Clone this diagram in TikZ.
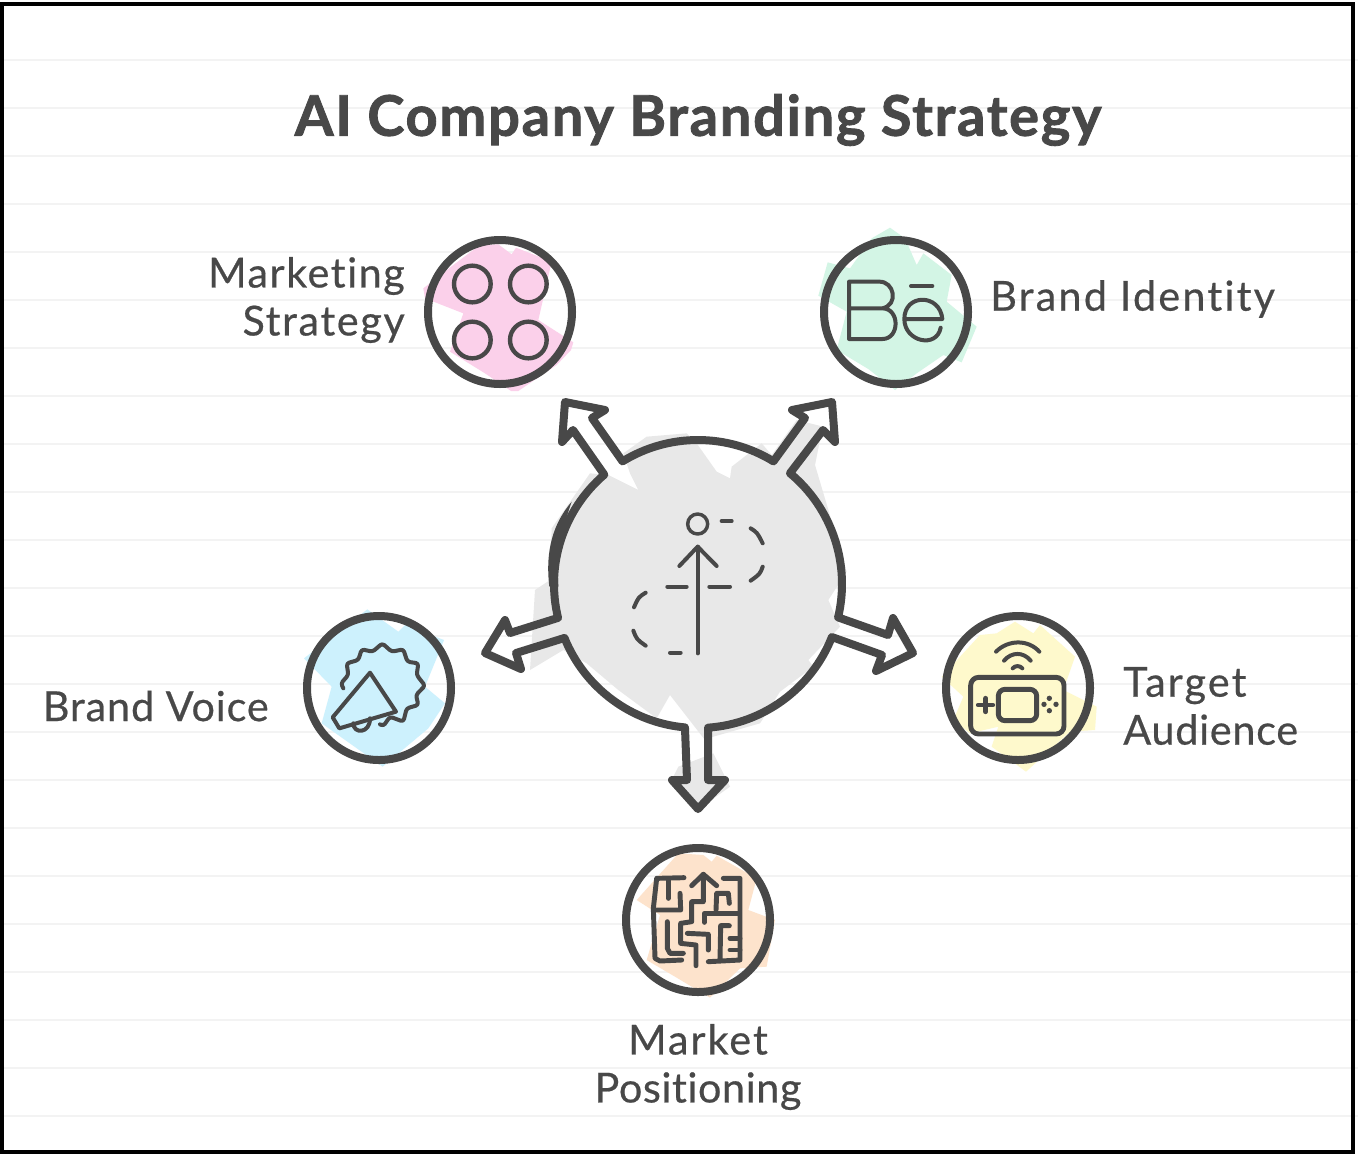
\documentclass[tikz,border=0pt]{standalone}
\usepackage{fontspec}
\setmainfont{Lato}[Ligatures=CommonOff]
\newcommand{\spaced}[2]{{\addfontfeature{LetterSpace=#1,FakeBold=0.5}#2}}
\newcommand{\spacedheavy}[2]{{\addfontfeature{LetterSpace=#1,FakeBold=1.5}#2}}
\definecolor{ink}{HTML}{484848}
\definecolor{ruleline}{HTML}{F3F3F3}
\definecolor{hubfill}{HTML}{E8E8E8}
\definecolor{pinkfill}{HTML}{FBD0EA}
\definecolor{mintfill}{HTML}{D3F5E5}
\definecolor{bluefill}{HTML}{CDF1FD}
\definecolor{yellowfill}{HTML}{FEF9CC}
\definecolor{peachfill}{HTML}{FDE3CC}
\tikzset{
  ring/.style={circle,draw=ink,line width=6pt,minimum size=108pt,inner sep=0pt},
  hubanchor/.style={circle,inner sep=0pt,minimum size=216pt},
  hubline/.style={draw=ink,line width=6pt,line join=round,line cap=round},
  icon/.style={draw=ink,line width=3pt,line join=round,line cap=round},
  heavyicon/.style={draw=ink,line width=3.7pt,line join=round,line cap=round},
  thinicon/.style={draw=ink,line width=3pt,line join=round,line cap=round},
  zoomed/.style={x=0.25pt,y=-0.25pt},
  labeltext/.style={text=ink,font=\fontsize{31}{36}\selectfont,inner sep=0pt},
  titletext/.style={text=ink,font=\bfseries\fontsize{42}{48}\selectfont,inner sep=0pt},
}
\begin{document}
\begin{tikzpicture}[x=0.75pt,y=-0.75pt]
\useasboundingbox (0,0) rectangle (1358,1154);
\fill[white] (0,0) rectangle (1358,1154);
\foreach \yy in {60,108,...,1116} \draw[ruleline,line width=1.5pt] (4,\yy) -- (1358,\yy);
\draw[black,line width=3pt] (2,4) rectangle (1353,1152);

% sketch fills
\begin{scope}[shift={(530,390)},zoomed]
\fill[hubfill] (350,140)--(470,130)--(500,160)--(560,245)--(600,265)--(605,230)--(695,160)--(725,195)--(800,90)--(880,110)--(870,150)--(855,225)--(950,545)--(895,630)--(930,710)--(835,810)--(850,830)--(750,905)--(690,1000)--(550,1040)--(525,1050)--(420,915)--(380,985)--(265,900)--(170,820)--(100,780)--(0,840)--(15,600)--(60,570)--(65,415)--(110,350)--(180,250)--(235,255)--(325,300)--(300,250)--(280,190)--cycle;
\fill[hubfill] (445,1130)--(550,1090)--(600,1190)--(505,1258)--(425,1170)--cycle;
\end{scope}
\begin{scope}[shift={(410,225)},zoomed]
\fill[pinkfill] (40,190)--(130,120)--(210,60)--(265,58)--(305,88)--(318,68)--(425,110)--(385,285)--(490,352)--(483,375)--(440,420)--(325,498)--(303,498)--(225,445)--(120,380)--(160,265)--(45,220)--cycle;
\end{scope}
\begin{scope}[shift={(805,225)},zoomed]
\fill[mintfill] (255,8)--(300,40)--(335,120)--(355,85)--(440,150)--(425,230)--(515,305)--(470,412)--(415,390)--(335,445)--(270,495)--(190,432)--(95,375)--(125,260)--(40,212)--(68,112)--(135,130)--(200,40)--cycle;
\end{scope}
\begin{scope}[shift={(290,600)},zoomed]
\fill[bluefill] (232,28)--(325,95)--(345,75)--(462,120)--(405,260)--(465,310)--(415,385)--(278,500)--(95,370)--(125,260)--(42,175)--cycle;
\end{scope}
\begin{scope}[shift={(930,600)},zoomed]
\fill[yellowfill] (255,65)--(310,100)--(330,75)--(435,170)--(400,270)--(500,320)--(495,390)--(420,395)--(288,515)--(185,440)--(205,380)--(120,400)--(70,360)--(100,290)--(35,230)--(150,105)--(200,100)--cycle;
\end{scope}
\begin{scope}[shift={(610,835)},zoomed]
\fill[peachfill] (205,55)--(280,60)--(305,80)--(320,62)--(440,130)--(415,225)--(495,255)--(470,395)--(390,400)--(300,488)--(195,425)--(110,375)--(150,240)--(80,195)--cycle;
\end{scope}

% nodes
\node[hubanchor] (hub) at (698,584) {};
\node[ring] (marketing) at (500,312) {};
\node[ring] (identity) at (896,312) {};
\node[ring] (voice) at (379,688) {};
\node[ring] (audience) at (1018,688) {};
\node[ring] (position) at (698,920) {};

% hub outline with its five block arrows
\path[hubline] ([shift={(-50.3:144)}]hub.center)
  arc[start angle=-50.3,end angle=13.4,radius=144]
  --(888,635)--(893,618)--(913,653)--(876,671)--(882,655)
  --([shift={(21.6:144)}]hub.center)
  arc[start angle=21.6,end angle=86,radius=144]
  --(708,780)--(725,780)--(698,809)--(672,780)--(687,780)
  --([shift={(95.2:144)}]hub.center)
  arc[start angle=95.2,end angle=158,radius=144]
  --(516,653)--(521,669)--(485,653)--(505,620)--(510,633)
  --([shift={(166.4:144)}]hub.center)
  arc[start angle=166.4,end angle=229.4,radius=144]
  --(573,430)--(562,442)--(565,402)--(605,410)--(592,418)
  --([shift={(238.4:144)}]hub.center)
  arc[start angle=238.4,end angle=301.6,radius=144]
  --(805,418)--(792,410)--(832,402)--(835,442)--(823,430)
  --cycle;

% hub icon and the heavier stretch of the hub outline
\begin{scope}[shift={(530,390)},zoomed]
\fill[ink] (125,335) .. controls (70,400) and (45,480) .. (58,590) -- (85,590) .. controls (80,470) .. (125,335) -- cycle;
\draw[thinicon,line width=2.6pt] (503,402) circle[radius=30];
\draw[thinicon] (503,790)--(503,470);
\draw[thinicon] (448,528)--(503,470)--(560,528);
\draw[thinicon] (575,393)--(605,393);
\draw[thinicon] (662,415) .. controls (682,428) .. (698,460);
\draw[thinicon] (698,530) .. controls (690,552) .. (662,572);
\draw[thinicon] (600,590)--(538,590);
\draw[thinicon] (470,590)--(412,590);
\draw[thinicon] (347,608) .. controls (325,622) .. (312,652);
\draw[thinicon] (310,722) .. controls (320,748) .. (347,767);
\draw[thinicon] (420,788)--(452,788);
\end{scope}

% marketing icon
\begin{scope}[shift={(410,225)},zoomed]
\foreach \cx/\cy in {187/177,355/177,187/345,355/345}
  \draw[heavyicon,line width=3.3pt] (\cx,\cy) circle[radius=55];
\end{scope}

% identity icon
\begin{scope}[shift={(805,225)},zoomed]
\draw[icon] (135,250) -- (232,250) .. controls (282,240) and (268,168) .. (222,170) -- (132,170) -- (132,342) -- (232,342) .. controls (285,342) and (285,250) .. (232,250);
\draw[icon] (298,282) -- (412,282) .. controls (405,205) and (298,205) .. (298,282) .. controls (298,350) and (395,372) .. (407,308);
\draw[icon] (318,183) -- (382,183);
\end{scope}

% voice icon
\begin{scope}[shift={(290,600)},zoomed]
\draw[icon,rounded corners=2pt] (160,265)--(153,250)--(175,225)--(170,190)--(205,180)--(215,148)--(248,155)--(277,130)--(305,155)--(340,148)--(352,185)--(385,190)--(380,225)--(405,257)--(378,285)--(385,315)--(350,325)--(340,365)--(300,350)--(280,378)--(270,373);
\draw[icon] (240,218)--(128,352)--(148,385)--(318,335)--cycle;
\draw[icon] (190,370) .. controls (190,402) and (240,402) .. (240,355);
\end{scope}

% audience icon
\begin{scope}[shift={(930,600)},zoomed]
\draw[icon] (198,155) .. controls (235,118) and (295,118) .. (328,155);
\draw[icon] (222,182) .. controls (245,155) and (280,155) .. (302,182);
\draw[icon] (248,205) .. controls (255,196) and (270,196) .. (277,205);
\draw[heavyicon,rounded corners=6pt] (122,232) rectangle (402,402);
\draw[heavyicon,rounded corners=5pt] (205,268) rectangle (320,362);
\draw[heavyicon] (145,315)--(188,315);
\draw[heavyicon] (167,295)--(167,335);
\foreach \cx/\cy in {342/313,358/295,378/313,358/332}
  \fill[ink] (\cx,\cy) circle[radius=8];
\end{scope}

% position icon
\begin{scope}[shift={(610,835)},zoomed]
\draw[heavyicon] (222,128)--(140,130)--(130,220)--(135,370)--(150,378)--(215,375);
\draw[heavyicon] (175,135)--(175,190);
\draw[heavyicon] (210,175)--(212,225)--(135,225);
\draw[heavyicon] (172,260)--(172,340)--(180,355)--(220,355);
\draw[heavyicon] (258,392)--(258,330)--(212,325)--(212,265)--(245,260)--(245,200)--(280,200)--(280,118);
\draw[heavyicon] (245,152)--(280,118)--(320,152);
\draw[heavyicon] (340,130)--(390,130)--(390,375)--(295,380);
\draw[heavyicon] (318,225)--(320,175)--(355,175)--(358,205);
\draw[heavyicon] (283,262)--(283,235)--(388,235);
\draw[heavyicon] (232,295)--(295,298)--(295,345);
\draw[heavyicon] (330,375)--(332,272)--(358,272);
\draw[heavyicon] (360,310)--(390,310);
\draw[heavyicon] (360,345)--(390,345);
\end{scope}

% text
\node[titletext] (title) at (698,120) {\spacedheavy{3.1}{AI Company Branding Strategy}};
\node[labeltext,anchor=east,align=right] (marketinglabel) at (405,300) {\spaced{3.75}{Marketing}\\\spaced{4}{Strategy}};
\node[labeltext,anchor=west] (identitylabel) at (990,299) {\spaced{5.4}{Brand Identity}};
\node[labeltext,anchor=east] (voicelabel) at (269,706) {\spaced{2.2}{Brand Voice}};
\node[labeltext,anchor=west,align=left] (audiencelabel) at (1123,706) {\spaced{5.2}{Target}\\\spaced{1.8}{Audience}};
\node[labeltext,align=center] (positionlabel) at (698,1067) {\spaced{4.8}{Market}\\\spaced{1.5}{Positioning}};
\end{tikzpicture}
\end{document}
